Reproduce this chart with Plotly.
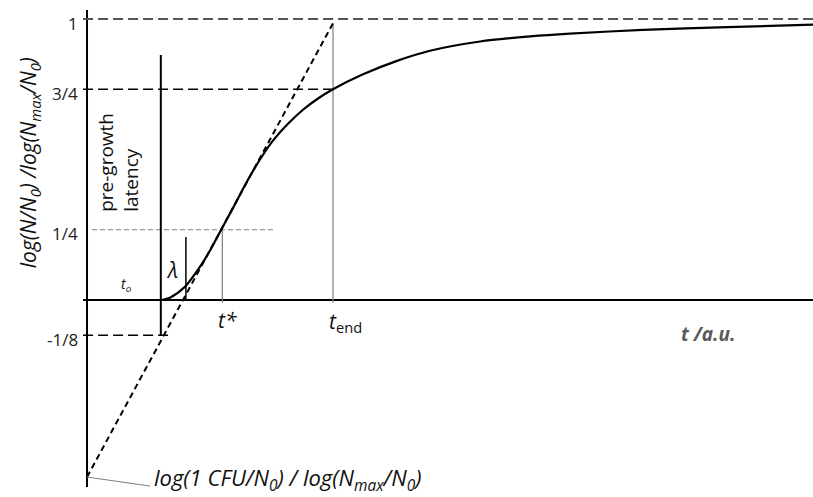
import plotly.graph_objects as go

# ---- data (t in arbitrary units, y = log(N/N0)/log(Nmax/N0)) ----
curve_t = [3.04, 3.37, 3.98, 4.59, 5.0, 5.41, 5.93, 6.49, 7.03, 7.56, 8.17, 8.78, 9.39, 10.0,
           11.22, 12.6, 13.94, 15.98, 18.01, 19.63, 22.6, 26.02, 29.51]
curve_y = [0.0, 0.008, 0.047, 0.118, 0.176, 0.243, 0.327, 0.42, 0.5, 0.567, 0.627, 0.677,
           0.717, 0.75, 0.803, 0.851, 0.887, 0.92, 0.938, 0.948, 0.961, 0.971, 0.98]

tangent_t = [0.0, 10.0]
tangent_y = [-0.63, 0.985]

t_lag = 3.0        # pre-growth latency line
t_lambda = 4.02    # lambda marker
t_star = 5.5
t_end = 10.0
t_max = 29.51
y_levels = [1.0, 0.75, 0.25, -0.125]
tick_labels = ["1", "3/4", "1/4", "-1/8"]
y_cfu = -0.63

BLACK = "#000000"
GRAY = "#7f7f7f"
DGRAY = "#555555"

fig = go.Figure()

def seg(x, y, color, width, dash=None):
    fig.add_trace(go.Scatter(x=x, y=y, mode="lines", hoverinfo="skip",
                             line=dict(color=color, width=width, dash=dash),
                             showlegend=False))

# axes
seg([0, 0], [1.032, -0.665], BLACK, 2)
seg([-0.16, t_max], [0, 0], BLACK, 2)

# horizontal reference lines
seg([-0.16, t_max], [y_levels[0], y_levels[0]], DGRAY, 1.8, "10px,5px")
seg([-0.16, t_end], [y_levels[1], y_levels[1]], BLACK, 1.5, "10px,5px")
seg([0.2, 7.64], [y_levels[2], y_levels[2]], GRAY, 1, "5px,3px")
seg([-0.16, 3.3], [y_levels[3], y_levels[3]], BLACK, 1.5, "10px,5px")

# vertical markers
seg([t_lag, t_lag], [0.872, y_levels[3]], BLACK, 2)
seg([t_lambda, t_lambda], [0.224, 0], BLACK, 1.5)
seg([t_star, t_star], [0.25, -0.01], GRAY, 1.2)
seg([t_end, t_end], [0.985, -0.01], GRAY, 1.2)

# tangent (exponential phase extrapolation)
seg(tangent_t, tangent_y, BLACK, 2, "6px,4px")

# leader line to bottom label
seg([0.0, 2.56], [y_cfu, -0.662], GRAY, 1)

# growth curve
fig.add_trace(go.Scatter(x=curve_t, y=curve_y, mode="lines", hoverinfo="skip",
                         line=dict(color=BLACK, width=2.2, shape="spline", smoothing=0.8),
                         showlegend=False))

FONT = "Open Sans"
ann = []
for lv, lab in zip(y_levels, tick_labels):
    ann.append(dict(x=-0.29, y=lv, text=lab, xanchor="right", yanchor="middle",
                    yshift=-4, showarrow=False, font=dict(size=17, color="#222", family=FONT)))

ann += [
    dict(x=-2.35, y=0.4875, text="<i>log(N/N<sub>0</sub>) /log(N<sub>max</sub>/N<sub>0</sub>)</i>",
         textangle=-90, showarrow=False, font=dict(size=21, color="#111", family=FONT)),
    dict(x=1.28, y=0.49, text="pre-growth<br>latency", textangle=-90, align="left",
         showarrow=False, font=dict(size=19, color="#111", family=FONT)),
    dict(x=1.59, y=0.055, text="<i>t<sub>o</sub></i>", showarrow=False,
         font=dict(size=14, color="#111", family=FONT)),
    dict(x=3.46, y=0.107, text="<i>λ</i>", showarrow=False,
         font=dict(size=21, color="#111", family=FONT)),
    dict(x=5.73, y=-0.072, text="<i>t*</i>", showarrow=False,
         font=dict(size=21, color="#111", family=FONT)),
    dict(x=10.5, y=-0.08, text="<i>t</i><sub>end</sub>", showarrow=False,
         font=dict(size=21, color="#111", family=FONT)),
    dict(x=25.25, y=-0.12, text="<b><i>t /a.u.</i></b>", showarrow=False,
         font=dict(size=19, color="#595959", family=FONT)),
    dict(x=2.65, y=-0.637, text="<i>log(1 CFU/N<sub>0</sub>) / log(N<sub>max</sub>/N<sub>0</sub>)</i>",
         xanchor="left", showarrow=False, font=dict(size=22, color="#111", family=FONT)),
]

fig.update_layout(
    width=813, height=497,
    margin=dict(l=0, r=0, t=0, b=0),
    paper_bgcolor="white", plot_bgcolor="white",
    xaxis=dict(range=[-3.537, 29.51], visible=False, fixedrange=True),
    yaxis=dict(range=[-0.701, 1.0676], visible=False, fixedrange=True),
    annotations=ann,
    showlegend=False,
)

fig.write_html("out.html", config={"displayModeBar": False},
               post_script="document.body.style.margin='0px';")
